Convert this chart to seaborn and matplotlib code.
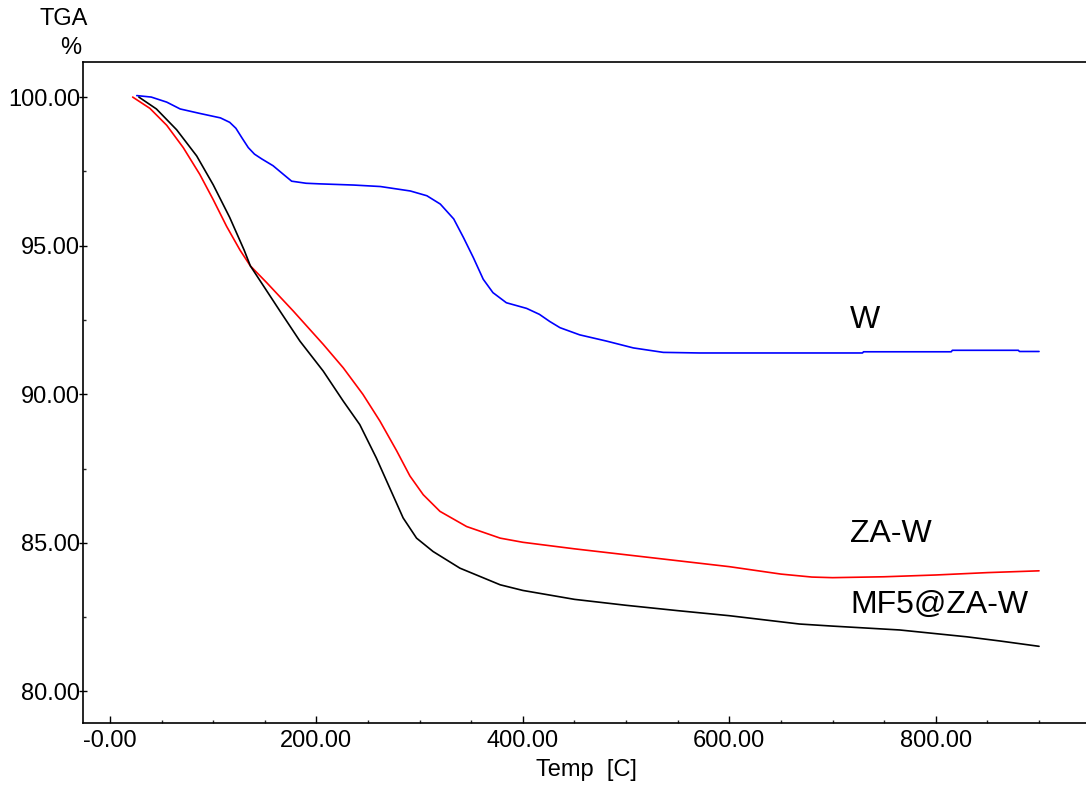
import numpy as np
import pandas as pd
import seaborn as sns
import matplotlib
matplotlib.use("Agg")
import matplotlib.pyplot as plt
from matplotlib.ticker import MultipleLocator, FixedLocator, FixedFormatter

# ---- data ----
w_temp = [26, 40, 55, 68, 87, 107, 116, 122, 128, 134, 140, 147, 158, 168, 176, 190, 203, 236, 262,
          291, 307, 320, 333, 342.5, 352, 361.6, 371, 384, 403.6, 416, 426, 436, 455, 481, 507,
          536, 571, 650, 729, 730, 815, 816, 880, 881, 900]
w_val = [100.05, 100.0, 99.83, 99.6, 99.45, 99.3, 99.15, 98.95, 98.62, 98.3, 98.08, 97.92, 97.69,
         97.4, 97.17, 97.1, 97.08, 97.04, 96.99, 96.84, 96.68, 96.4, 95.9, 95.27, 94.6, 93.87,
         93.42, 93.08, 92.89, 92.69, 92.45, 92.24, 92.0, 91.79, 91.56, 91.41, 91.39, 91.39, 91.39,
         91.43, 91.43, 91.48, 91.48, 91.44, 91.44]

zaw_temp = [22, 38.7, 55, 71, 87, 100, 113, 126, 136, 152, 177.6, 206.6, 226, 245, 261.5, 277.7,
            290.6, 303.5, 319.7, 345.5, 378, 400, 450, 500, 550, 600, 650, 680, 700, 750, 800,
            850, 900]
zaw_val = [100.0, 99.62, 99.05, 98.3, 97.4, 96.55, 95.65, 94.85, 94.32, 93.75, 92.8, 91.68, 90.89,
           90.0, 89.1, 88.1, 87.25, 86.62, 86.06, 85.55, 85.16, 85.02, 84.8, 84.6, 84.4, 84.2,
           83.95, 83.85, 83.83, 83.86, 83.92, 84.0, 84.06]

mf5_temp = [28, 45, 64.6, 84, 100, 116, 130, 136, 164.7, 184, 206.6, 226, 242, 258, 271, 284,
            297, 313, 339, 378, 400, 450, 500, 550, 600, 668, 700, 765, 830, 862, 900]
mf5_val = [100.0, 99.6, 98.9, 98.02, 97.05, 95.95, 94.85, 94.32, 92.8, 91.79, 90.78, 89.77, 88.98,
           87.86, 86.85, 85.84, 85.16, 84.71, 84.15, 83.59, 83.4, 83.1, 82.9, 82.72, 82.55, 82.27,
           82.2, 82.07, 81.84, 81.7, 81.52]

series_names = ["W", "ZA-W", "MF5@ZA-W"]
series_colors = ["#0000FF", "#FF0000", "#000000"]

x_ticks = [0, 200, 400, 600, 800]
x_ticklabels = ["-0.00", "200.00", "400.00", "600.00", "800.00"]
y_ticks = [80, 85, 90, 95, 100]
y_ticklabels = ["80.00", "85.00", "90.00", "95.00", "100.00"]

# ---- plot ----
sns.set_theme(style="white")
plt.rcParams["font.family"] = ["Liberation Sans", "DejaVu Sans"]
plt.rcParams["text.color"] = "black"

fig = plt.figure(figsize=(10.86, 7.92), dpi=100)
ax = fig.add_axes([82.7 / 1086, (792 - 722.7) / 792, 1 - 82.7 / 1086, (722.7 - 62) / 792])

for t, v, c in zip([w_temp, zaw_temp, mf5_temp], [w_val, zaw_val, mf5_val], series_colors):
    df = pd.DataFrame({"t": t, "v": v})
    sns.lineplot(data=df, x="t", y="v", color=c, linewidth=1.2, sort=False,
                 estimator=None, ax=ax)

ax.set_xlim(-26.4, 945.5)
ax.set_ylim(78.95, 101.18)
ax.set_xlabel("")
ax.set_ylabel("")

ax.xaxis.set_major_locator(FixedLocator(x_ticks))
ax.xaxis.set_major_formatter(FixedFormatter(x_ticklabels))
ax.yaxis.set_major_locator(FixedLocator(y_ticks))
ax.yaxis.set_major_formatter(FixedFormatter(y_ticklabels))
ax.xaxis.set_minor_locator(MultipleLocator(50))
ax.yaxis.set_minor_locator(MultipleLocator(2.5))

ax.tick_params(axis="x", which="major", direction="in", length=5, width=1, bottom=True,
               top=False, pad=5, labelsize=17, colors="black")
ax.tick_params(axis="x", which="minor", direction="in", length=2.5, width=1, bottom=True, top=False)
ax.tick_params(axis="y", which="major", direction="inout", length=6, width=1, left=True,
               right=False, pad=-1, labelsize=17, colors="black")
ax.tick_params(axis="y", which="minor", direction="in", length=2.5, width=1, left=True, right=False)

for s in ["left", "bottom", "top"]:
    ax.spines[s].set_visible(True)
    ax.spines[s].set_color("black")
    ax.spines[s].set_linewidth(1.2)
ax.spines["right"].set_visible(False)

# series labels
ax.text(717, 92.22, series_names[0], fontsize=23, color="black", ha="left", va="baseline")
ax.text(717, 85.02, series_names[1], fontsize=23, color="black", ha="left", va="baseline")
ax.text(717, 82.63, series_names[2], fontsize=23, color="black", ha="left", va="baseline")

# axis titles
fig.text(64 / 1086, 1 - 25 / 792, "TGA", fontsize=17, color="black", ha="center", va="baseline")
fig.text(70.5 / 1086, 1 - 54 / 792, "%", fontsize=17, color="black", ha="center", va="baseline")
fig.text(586.5 / 1086, 1 - 776 / 792, "Temp  [C]", fontsize=17, color="black",
         ha="center", va="baseline")

fig.savefig("out.png", dpi=100, facecolor="white")
